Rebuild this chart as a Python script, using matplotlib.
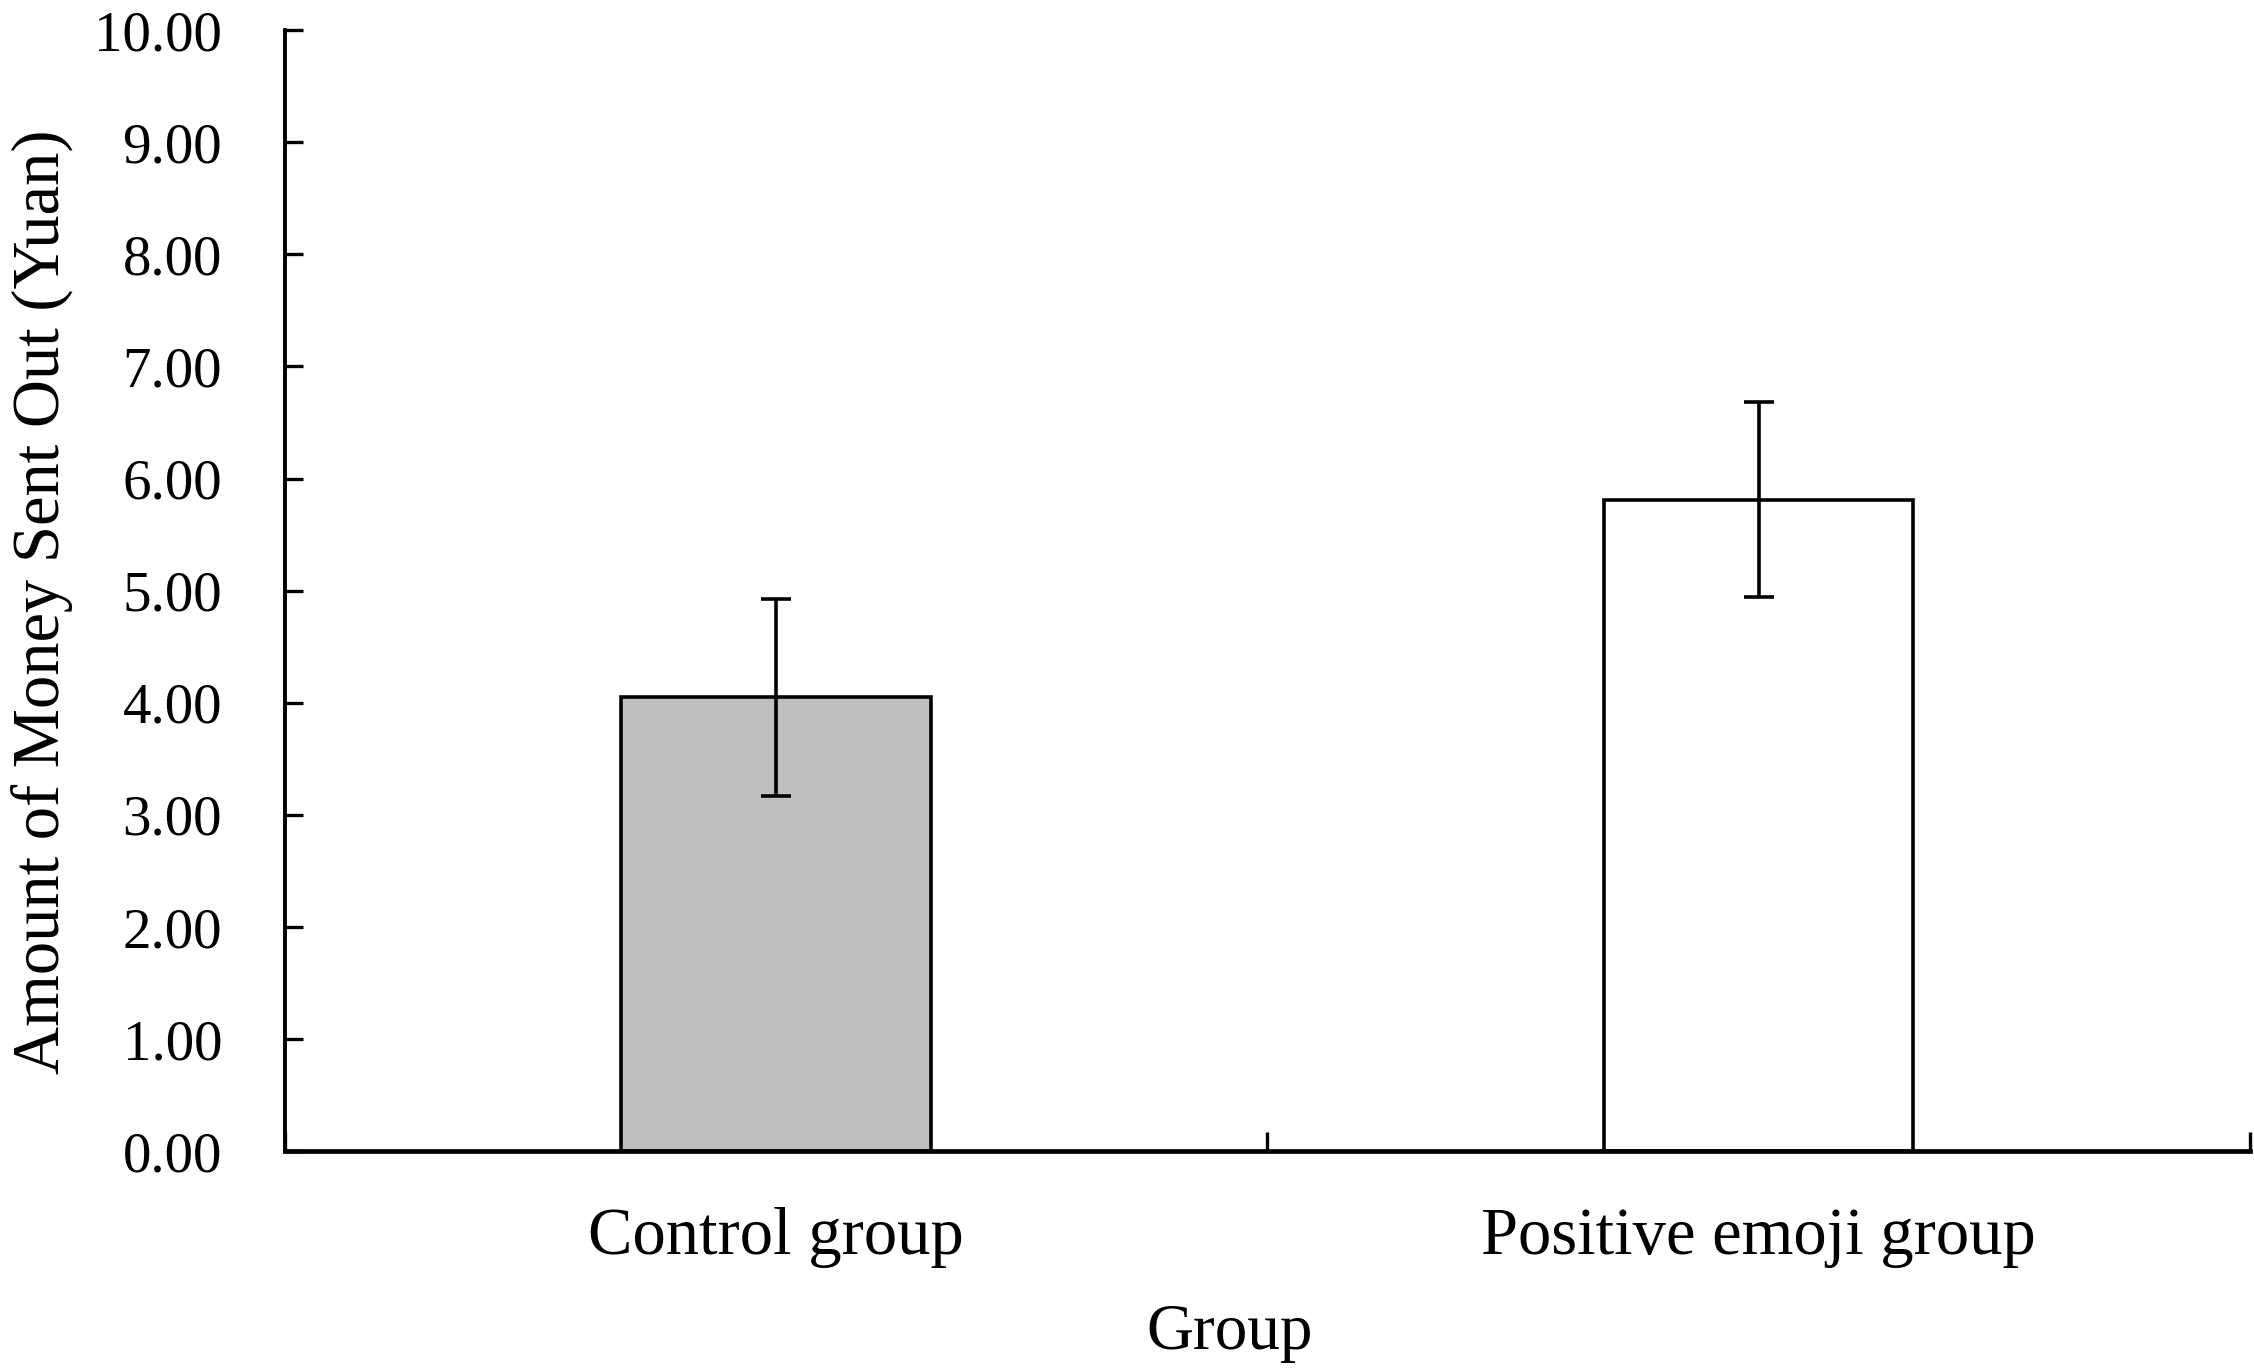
import numpy as np
import matplotlib.pyplot as plt

groups = ["Control group", "Positive emoji group"]
means = [4.05, 5.81]
errors = [0.88, 0.87]
colors = ["#c0c0c0", "#ffffff"]

plt.rcParams['font.family'] = ['Liberation Serif', 'DejaVu Serif']

fig = plt.figure(figsize=(22.54, 13.69), dpi=100)
ax = fig.add_axes([0.1263, 0.159, 0.8719, 0.819])

x = np.arange(len(groups)) + 0.5
ax.bar(x, means, width=0.315, color=colors, edgecolor="black", linewidth=2.6, zorder=2)
ax.errorbar(x, means, yerr=errors, fmt="none", ecolor="black", elinewidth=2.6,
            capsize=10.5, capthick=2.6, zorder=3)

ax.set_xlim(0, 2)
ax.set_ylim(0, 10)
ax.set_yticks(np.arange(0, 11, 1))
ax.set_yticklabels(["%.2f" % v for v in np.arange(0, 11, 1)])
ax.set_xticks([0, 1, 2])
ax.set_xticklabels([])
ax.set_xticks(x, minor=True)
ax.set_xticklabels(groups, minor=True)
ax.tick_params(axis="x", which="minor", length=0, pad=40, labelsize=48)
ax.tick_params(axis="x", which="major", direction="in", length=14, width=2.4)
ax.tick_params(axis="y", direction="in", length=13, width=2.4, labelsize=41, pad=45)

for s in ["top", "right"]:
    ax.spines[s].set_visible(False)
ax.spines["left"].set_linewidth(2.8)
ax.spines["bottom"].set_linewidth(3.4)

ax.set_xlabel("Group", fontsize=47, labelpad=26)
ax.xaxis.label.set_x(0.4806)
ax.set_ylabel("Amount of Money Sent Out (Yuan)", fontsize=48, labelpad=15)
ax.yaxis.label.set_y(0.49)

fig.savefig("out.png", dpi=100)
